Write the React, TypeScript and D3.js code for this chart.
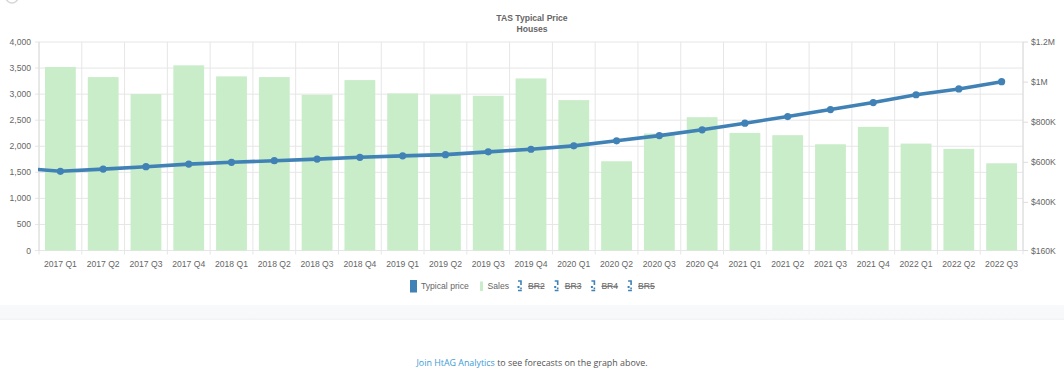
import React from "react";
import * as d3 from "d3";

const categories = [
  "2017 Q1", "2017 Q2", "2017 Q3", "2017 Q4",
  "2018 Q1", "2018 Q2", "2018 Q3", "2018 Q4",
  "2019 Q1", "2019 Q2", "2019 Q3", "2019 Q4",
  "2020 Q1", "2020 Q2", "2020 Q3", "2020 Q4",
  "2021 Q1", "2021 Q2", "2021 Q3", "2021 Q4",
  "2022 Q1", "2022 Q2", "2022 Q3",
];

const sales = [
  3520, 3327, 3000, 3552,
  3340, 3327, 2987, 3269,
  3013, 2994, 2968, 3301,
  2885, 1712, 2245, 2558,
  2256, 2212, 2038, 2372,
  2051, 1949, 1673,
];

// previous quarter (2016 Q4), drawn clipped at the left edge
const priorPrice = 572000;
const typicalPrice = [
  555000, 566000, 578000, 591000,
  600000, 608000, 616000, 625000,
  632000, 638000, 652000, 665000,
  682000, 707000, 733000, 762000,
  795000, 828000, 863000, 898000,
  937000, 966000, 1002000,
];

const leftTicks = [0, 500, 1000, 1500, 2000, 2500, 3000, 3500, 4000];
const rightTicks = [160000, 400000, 600000, 800000, 1000000, 1200000];
const legendHidden = ["BR2", "BR3", "BR4", "BR5"];

const W = 1064;
const H = 383;
const X0 = 39;
const X1 = 1023;
const Y0 = 42;
const Y1 = 250.5;
const FONT = "'Liberation Sans', Arial, Helvetica, sans-serif";
const TXT = "#666";
const GRID = "#e6e6e6";
const BLUE = "#4182b6";
const GREEN = "#c9ecc9";

function fmtMoney(v: number) {
  if (v >= 1000000) return "$" + d3.format("~g")(v / 1000000) + "M";
  return "$" + d3.format("~g")(v / 1000) + "K";
}

export default function App() {
  const x = d3.scaleBand<string>().domain(categories).range([X0, X1]).paddingInner(0).paddingOuter(0);
  const step = x.step();
  const barW = step * 0.72;
  const yL = d3.scaleLinear().domain([0, 4000]).range([Y1, Y0]);
  const yR = d3.scaleLinear().domain([160000, 1200000]).range([Y1, Y0]);
  const cx = (i: number) => X0 + step * (i + 0.5);

  const pts: [number, number][] = [[cx(-1), yR(priorPrice)], ...typicalPrice.map((v, i) => [cx(i), yR(v)] as [number, number])];
  const linePath = d3.line()(pts) || "";
  const fmtL = d3.format(",");

  const legendY = 286;

  return (
    <div style={{ position: "absolute", left: 0, top: 0, width: W, height: H, background: "#fff" }}>
      <svg width={W} height={H} style={{ display: "block" }}>
        <defs>
          <clipPath id="plot">
            <rect x={X0 - 1} y={Y0 - 10} width={X1 - X0 + 10} height={Y1 - Y0 + 20} />
          </clipPath>
          <linearGradient id="band" x1="0" y1="0" x2="0" y2="1">
            <stop offset="0" stopColor="#f8f9fa" />
            <stop offset="0.85" stopColor="#f7f8f9" />
            <stop offset="1" stopColor="#f0f1f2" />
          </linearGradient>
        </defs>

        {/* partial icon at top-left */}
        <circle cx={12} cy={-3} r={6} fill="none" stroke="#d6d6d6" strokeWidth={1.5} />

        {/* title */}
        <text x={532} y={21} textAnchor="middle" fontFamily={FONT} fontSize={8.6} fontWeight="bold" fill={TXT}>TAS Typical Price</text>
        <text x={532} y={32} textAnchor="middle" fontFamily={FONT} fontSize={8.6} fontWeight="bold" fill={TXT}>Houses</text>

        {/* horizontal grid */}
        {leftTicks.map((t) => (
          <line key={"hg" + t} x1={X0 - 4} x2={X1} y1={yL(t)} y2={yL(t)} stroke={GRID} strokeWidth={1} />
        ))}
        {/* vertical grid */}
        {d3.range(categories.length + 1).map((i) => (
          <line key={"vg" + i} x1={X0 + i * step} x2={X0 + i * step} y1={Y0} y2={Y1 + 4} stroke={GRID} strokeWidth={1} />
        ))}
        {/* axis lines and right ticks */}
        <line x1={X1} x2={X1} y1={Y0} y2={Y1} stroke="#dcdcdc" />
        <line x1={X0} x2={X0} y1={Y0} y2={Y1} stroke="#dcdcdc" />
        {rightTicks.map((t) => (
          <line key={"rt" + t} x1={X1} x2={X1 + 5} y1={yR(t)} y2={yR(t)} stroke="#dcdcdc" />
        ))}

        {/* bars */}
        {sales.map((v, i) => (
          <rect key={"b" + i} x={cx(i) - barW / 2} y={yL(v)} width={barW} height={Y1 - yL(v)} fill={GREEN} />
        ))}

        {/* line */}
        <g clipPath="url(#plot)">
          <path d={linePath} fill="none" stroke={BLUE} strokeWidth={3.6} strokeLinejoin="round" />
          {typicalPrice.map((v, i) => (
            <circle key={"p" + i} cx={cx(i)} cy={yR(v)} r={3.6} fill={BLUE} />
          ))}
        </g>

        {/* left tick labels */}
        {leftTicks.map((t) => (
          <text key={"lt" + t} x={31} y={yL(t)} dy="0.35em" textAnchor="end" fontFamily={FONT} fontSize={8.6} fill={TXT}>{fmtL(t)}</text>
        ))}
        {/* right tick labels */}
        {rightTicks.map((t) => (
          <text key={"rl" + t} x={1031} y={yR(t)} dy="0.35em" textAnchor="start" fontFamily={FONT} fontSize={8.6} fill={TXT}>{fmtMoney(t)}</text>
        ))}
        {/* x labels */}
        {categories.map((c, i) => (
          <text key={"xl" + c} x={cx(i)} y={263.5} dy="0.35em" textAnchor="middle" fontFamily={FONT} fontSize={8.6} fill={TXT}>{c}</text>
        ))}

        {/* legend */}
        <rect x={410} y={280} width={7} height={12.5} fill={BLUE} />
        <text x={421} y={legendY} dy="0.35em" fontFamily={FONT} fontSize={8.6} fill={TXT}>Typical price</text>
        <rect x={480} y={281.5} width={3} height={9.5} fill={GREEN} />
        <text x={487.5} y={legendY} dy="0.35em" fontFamily={FONT} fontSize={8.6} fill={TXT}>Sales</text>
        {legendHidden.map((s, i) => {
          const lx = 518 + i * 36.7;
          return (
            <g key={s}>
              <path d={`M${lx},${281} h3 v4 M${lx + 3},${287.5} v1.5 M${lx},${290.5} h3 v-1`} fill="none" stroke={BLUE} strokeWidth={1.6} />
              <rect x={lx - 0.5} y={286} width={2} height={2} fill={BLUE} />
              <text x={lx + 10} y={legendY} dy="0.35em" fontFamily={FONT} fontSize={8.6} fill={TXT} textDecoration="line-through">{s}</text>
            </g>
          );
        })}

        {/* grey band */}
        <rect x={0} y={305} width={W} height={15} fill="url(#band)" />

        {/* footer note */}
        <text x={532} y={363} dy="0.35em" textAnchor="middle" fontFamily="'Open Sans', 'Noto Sans', sans-serif" fontSize={8.9}>
          <tspan fill="#3d9bd6">Join HtAG Analytics</tspan>
          <tspan fill="#555"> to see forecasts on the graph above.</tspan>
        </text>
      </svg>
    </div>
  );
}
